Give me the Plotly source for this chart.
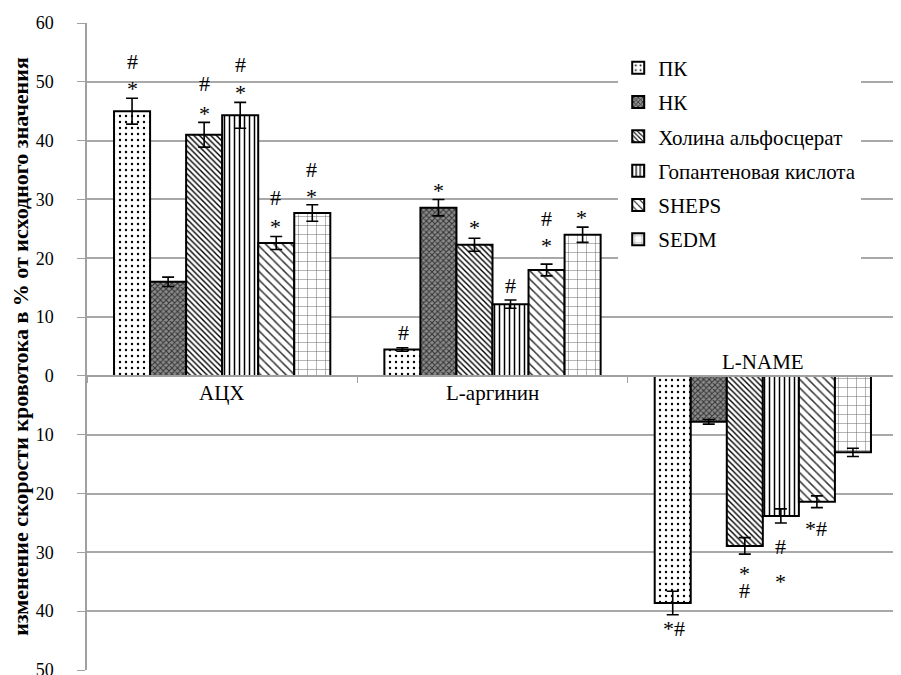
import plotly.graph_objects as go

categories = ["АЦХ", "L-аргинин", "L-NAME"]

series_names = ["ПК", "НК", "Холина альфосцерат", "Гопантеновая кислота", "SHEPS", "SEDM"]

pk_values = [45.0, 4.5, -38.6]
pk_errors = [2.2, 0.3, 2.0]
nk_values = [16.0, 28.6, -7.8]
nk_errors = [0.8, 1.4, 0.4]
hol_values = [41.0, 22.3, -28.9]
hol_errors = [2.1, 1.1, 1.4]
gop_values = [44.3, 12.2, -23.8]
gop_errors = [2.2, 0.7, 1.2]
sheps_values = [22.6, 18.0, -21.4]
sheps_errors = [1.1, 1.0, 1.0]
sedm_values = [27.7, 24.0, -13.0]
sedm_errors = [1.4, 1.3, 0.7]

y_tick_values = [-50, -40, -30, -20, -10, 0, 10, 20, 30, 40, 50, 60]
y_tick_labels = ["50", "40", "30", "20", "10", "0", "10", "20", "30", "40", "50", "60"]

# significance marks: (series index, category index, text)
sig_marks = [
    (0, 0, "*"), (0, 0, "#"),
    (2, 0, "*"), (2, 0, "#"),
    (3, 0, "*"), (3, 0, "#"),
    (4, 0, "*"), (4, 0, "#"),
    (5, 0, "*"), (5, 0, "#"),
    (0, 1, "#"), (1, 1, "*"), (2, 1, "*"), (3, 1, "#"),
    (4, 1, "*"), (4, 1, "#"), (5, 1, "*"),
    (0, 2, "*#"), (2, 2, "*"), (2, 2, "#"),
    (3, 2, "#"), (3, 2, "*"), (4, 2, "*#"),
]
# pixel offsets of each mark from the end of its error bar (same order)
sig_offsets = [15, 37, 14, 39, 15, 38, 15, 39, 13, 35,
               15, 14, 16, 15, 24, 46, 15,
               14, 14, 36, 24, 54, 21]

all_values = [pk_values, nk_values, hol_values, gop_values, sheps_values, sedm_values]
all_errors = [pk_errors, nk_errors, hol_errors, gop_errors, sheps_errors, sedm_errors]

patterns = [
    dict(shape=".", fgcolor="black", bgcolor="white", size=6, solidity=0.12, fillmode="replace"),
    dict(shape="x", fgcolor="#333333", bgcolor="#8c8c8c", size=4, solidity=0.45, fillmode="replace"),
    dict(shape="\\", fgcolor="black", bgcolor="white", size=4, solidity=0.35, fillmode="replace"),
    dict(shape="|", fgcolor="black", bgcolor="white", size=5, solidity=0.3, fillmode="replace"),
    dict(shape="\\", fgcolor="#333333", bgcolor="white", size=6, solidity=0.25, fillmode="replace"),
    dict(shape="+", fgcolor="#777777", bgcolor="white", size=9, solidity=0.12, fillmode="replace"),
]

FONT = "Liberation Serif, Times New Roman, serif"

fig = go.Figure()
for i, name in enumerate(series_names):
    fig.add_trace(go.Bar(
        name=name,
        x=categories,
        y=all_values[i],
        legendgroup=name,
        marker=dict(color="white", line=dict(color="black", width=2), pattern=patterns[i]),
        error_y=dict(type="data", array=all_errors[i], color="black", thickness=1.6, width=6),
    ))

annotations = []
ngroups = len(series_names)
for (si, ci, txt), off in zip(sig_marks, sig_offsets):
    v = all_values[si][ci]
    e = all_errors[si][ci]
    if v >= 0:
        yv = v + e
        shift = off
    else:
        yv = v - e
        shift = -off
    if txt == "*":
        shift -= 5
    xshift = (si - (ngroups - 1) / 2) * 35.7
    annotations.append(dict(
        x=categories[ci], y=yv, xref="x", yref="y", text=txt, showarrow=False,
        xshift=xshift, yshift=shift, yanchor="middle",
        font=dict(family=FONT, size=22, color="black"),
    ))

# category labels
cat_shifts = [-17, -17, 14]
for c, s in zip(categories, cat_shifts):
    annotations.append(dict(
        x=c, y=0, xref="x", yref="y", text=c, showarrow=False, yshift=s, yanchor="middle",
        font=dict(family=FONT, size=21, color="black"),
    ))

# the page body has an 8px margin, so the figure is offset by 8px
fig.update_layout(
    width=893, height=675,
    margin=dict(l=79, r=3, t=15, b=13),
    paper_bgcolor="white", plot_bgcolor="white",
    barmode="group", bargap=0.2, bargroupgap=0,
    font=dict(family=FONT, color="black"),
    annotations=annotations,
    legend=dict(
        x=0.655, y=0.962, xanchor="left", yanchor="top",
        bgcolor="white", font=dict(family=FONT, size=21, color="black"),
        tracegroupgap=4, itemwidth=30,
    ),
    xaxis=dict(
        type="category", anchor="free", position=50 / 110,
        showline=True, linecolor="#a0a0a0", linewidth=1.5,
        ticks="outside", tickson="boundaries", ticklen=6, tickcolor="#a0a0a0",
        showticklabels=False, showgrid=False, zeroline=False,
        range=[-0.5, 2.5],
    ),
    yaxis=dict(
        range=[-50, 60], tickvals=y_tick_values, ticktext=y_tick_labels,
        showline=True, linecolor="#a0a0a0", linewidth=1.5,
        ticks="outside", ticklen=8, tickcolor="#a0a0a0",
        showgrid=True, gridcolor="#a8a8a8", gridwidth=1.5, zeroline=False,
        tickfont=dict(family=FONT, size=18, color="black"),
        ticklabelstandoff=20,
        title=dict(text="<b>изменение скорости кровотока в % от исходного значения</b>",
                   font=dict(family=FONT, size=22, color="black"), standoff=6),
    ),
)

fig.write_html("out.html")
